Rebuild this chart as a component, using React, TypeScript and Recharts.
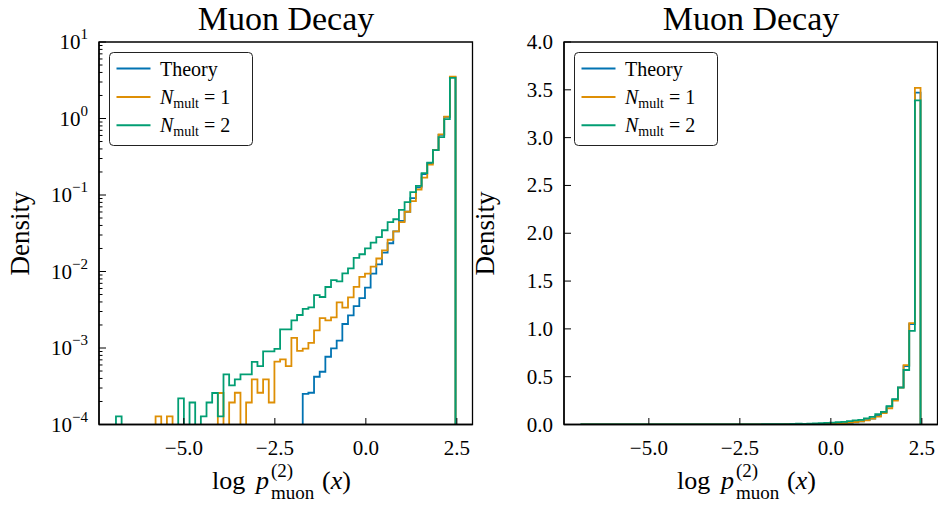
import React from 'react';
import { LineChart, Line, XAxis, YAxis, ReferenceArea } from 'recharts';

// ---- data ----
const BIN_START = -6.865;
const BIN_WIDTH = 0.15548;

const theory = [
  0, 0, 0, 0, 0, 0, 0, 0, 0, 0,
  0, 0, 0, 0, 0, 0, 0, 0, 0, 0,
  0, 0, 0, 0, 0, 0, 0, 0, 0, 0,
  0, 0, 0, 2.52e-4, 2.6e-4, 4.21e-4, 4.89e-4, 7.69e-4, 9.88e-4, 1.25e-3,
  2.06e-3, 2.67e-3, 3.53e-3, 4.5e-3, 6.15e-3, 9.39e-3, 1.24e-2, 1.77e-2, 2.34e-2, 3.34e-2,
  4.58e-2, 6.04e-2, 9.08e-2, 0.126, 0.187, 0.261, 0.388, 0.61, 1.05, 3.47,
];

const nMult1 = [
  0, 0, 0, 0, 0, 0, 0, 1.28e-4, 0, 1.28e-4,
  0, 0, 0, 0, 0, 0, 0, 0, 2.58e-4, 0,
  1.94e-4, 2.6e-4, 0, 1.94e-4, 3.88e-4, 2.6e-4, 3.88e-4, 1.94e-4, 6.62e-4, 7.09e-4,
  5.79e-4, 1.36e-3, 9.16e-4, 9.82e-4, 1.17e-3, 1.7e-3, 2.46e-3, 2.3e-3, 2.52e-3, 3.95e-3,
  3.37e-3, 4.59e-3, 6.31e-3, 8.53e-3, 9.39e-3, 1.16e-2, 1.48e-2, 1.89e-2, 2.6e-2, 3.34e-2,
  4.41e-2, 6.04e-2, 8.3e-2, 0.118, 0.169, 0.249, 0.386, 0.62, 1.06, 3.52,
];

const nMult2 = [
  1.28e-4, 0, 0, 0, 0, 0, 0, 0, 0, 0,
  0, 2.19e-4, 0, 1.94e-4, 0, 1.28e-4, 1.94e-4, 2.58e-4, 1.28e-4, 4.51e-4,
  3.24e-4, 3.88e-4, 4.51e-4, 4.51e-4, 6.58e-4, 5.79e-4, 9.02e-4, 9.02e-4, 9.73e-4, 1.75e-3,
  1.75e-3, 2.3e-3, 2.7e-3, 3.25e-3, 3.4e-3, 4.91e-3, 4.64e-3, 6.27e-3, 7.71e-3, 7.45e-3,
  9.47e-3, 1.1e-2, 1.51e-2, 1.68e-2, 2.01e-2, 2.38e-2, 2.81e-2, 3.46e-2, 4.41e-2, 4.82e-2,
  6.38e-2, 8.05e-2, 0.109, 0.132, 0.193, 0.265, 0.386, 0.57, 0.98, 3.39,
];

const SERIES_NAMES = ['Theory', 'N_mult = 1', 'N_mult = 2'];
const X_TICKS = [-5, -2.5, 0, 2.5];
const LIN_Y_TICKS = [0, 0.5, 1, 1.5, 2, 2.5, 3, 3.5, 4];
const LOG_DECADES = [-4, -3, -2, -1, 0];
const TITLE = 'Muon Decay';
const Y_LABEL = 'Density';

// ---- styling ----
const BLUE = '#0173b2';
const ORANGE = '#de8f05';
const GREEN = '#029e73';
const FONT = '"Liberation Serif", "Times New Roman", serif';
const TM = 10; // tick margin
const X_DOMAIN: [number, number] = [-7.331, 2.930];
const AXIS_LINE = { stroke: '#000', strokeWidth: 1.4 };

const LOG_TICKS: number[] = [];
LOG_DECADES.forEach((k) => {
  for (let m = 1; m <= 9; m++) LOG_TICKS.push(m * Math.pow(10, k));
});
LOG_TICKS.push(10);

function buildRows(floor: number) {
  const edge = (i: number) => BIN_START + i * BIN_WIDTH;
  const f = (v: number) => (v > 0 ? v : floor);
  const rows: any[] = [];
  rows.push({ x: edge(0), theory: floor, n1: floor, n2: floor });
  for (let i = 0; i < theory.length; i++) {
    rows.push({ x: edge(i), theory: f(theory[i]), n1: f(nMult1[i]), n2: f(nMult2[i]) });
  }
  rows.push({ x: edge(theory.length), theory: floor, n1: floor, n2: floor });
  return rows;
}

const logRows = buildRows(1e-7);
const linRows = buildRows(0);

const fmtX = (v: number) => (v < 0 ? '\u2212' : '') + Math.abs(v).toFixed(1);

const XTick = (p: any) => {
  const { x, y, payload } = p;
  const axisY = y - TM;
  return (
    <g>
      <line x1={x} x2={x} y1={axisY} y2={axisY - 6.5} stroke="#000" strokeWidth={1} />
      <text x={x} y={axisY + 30} textAnchor="middle" fontSize={21} fontFamily={FONT} fill="#000">
        {fmtX(payload.value)}
      </text>
    </g>
  );
};

const LogYTick = (p: any) => {
  const { x, y, payload } = p;
  const v = payload.value;
  const e = Math.floor(Math.log10(v) + 1e-9);
  const mant = v / Math.pow(10, e);
  const isMajor = Math.abs(mant - 1) < 1e-6;
  const axisX = x + TM;
  return (
    <g>
      <line x1={axisX} x2={axisX + (isMajor ? 7 : 3.5)} y1={y} y2={y} stroke="#000" strokeWidth={1} />
      {isMajor && (
        <text x={axisX - 11} y={y + 7} textAnchor="end" fontSize={21} fontFamily={FONT} fill="#000">
          10
          <tspan dy={-10} fontSize={15}>{e < 0 ? '\u2212' + -e : String(e)}</tspan>
        </text>
      )}
    </g>
  );
};

const LinYTick = (p: any) => {
  const { x, y, payload } = p;
  const axisX = x + TM;
  return (
    <g>
      <line x1={axisX} x2={axisX + 7} y1={y} y2={y} stroke="#000" strokeWidth={1} />
      <text x={axisX - 11} y={y + 7} textAnchor="end" fontSize={21} fontFamily={FONT} fill="#000">
        {payload.value.toFixed(1)}
      </text>
    </g>
  );
};

function Panel({ log }: { log: boolean }) {
  const rows = log ? logRows : linRows;
  return (
    <LineChart
      width={475}
      height={508}
      data={rows}
      margin={{ top: 42, right: 2.5, bottom: 0, left: 0 }}
    >
      <Line type="stepAfter" dataKey="theory" name={SERIES_NAMES[0]} stroke={BLUE} strokeWidth={1.8} dot={false} isAnimationActive={false} />
      <Line type="stepAfter" dataKey="n1" name={SERIES_NAMES[1]} stroke={ORANGE} strokeWidth={1.8} dot={false} isAnimationActive={false} />
      <Line type="stepAfter" dataKey="n2" name={SERIES_NAMES[2]} stroke={GREEN} strokeWidth={1.8} dot={false} isAnimationActive={false} />
      <ReferenceArea
        x1={X_DOMAIN[0]}
        x2={X_DOMAIN[1]}
        y1={log ? 1e-4 : 0}
        y2={log ? 10 : 4}
        fill="none"
        stroke="#000"
        strokeWidth={1.3}
        ifOverflow="visible"
        {...({ zIndex: 900 } as any)}
      />
      <XAxis
        dataKey="x"
        type="number"
        domain={X_DOMAIN}
        ticks={X_TICKS}
        allowDataOverflow
        height={83.5}
        tickSize={0}
        tickMargin={TM}
        tickLine={false}
        axisLine={AXIS_LINE}
        interval={0}
        tick={(p: any) => <XTick {...p} />}
      />
      {log ? (
        <YAxis
          type="number"
          scale="log"
          domain={[1e-4, 10]}
          allowDataOverflow
          ticks={LOG_TICKS}
          width={99}
          tickSize={0}
          tickMargin={TM}
          tickLine={false}
          axisLine={AXIS_LINE}
          interval={0}
          tick={(p: any) => <LogYTick {...p} />}
        />
      ) : (
        <YAxis
          type="number"
          domain={[0, 4]}
          allowDataOverflow
          ticks={LIN_Y_TICKS}
          width={99}
          tickSize={0}
          tickMargin={TM}
          tickLine={false}
          axisLine={AXIS_LINE}
          interval={0}
          tick={(p: any) => <LinYTick {...p} />}
        />
      )}
    </LineChart>
  );
}

function Legend({ dx }: { dx: number }) {
  const items = [
    { c: BLUE, label: null, text: 'Theory' },
    { c: ORANGE, label: '1' },
    { c: GREEN, label: '2' },
  ];
  return (
    <g transform={`translate(${dx},0)`}>
      <rect x={109.5} y={52.5} width={143} height={93} rx={4} fill="#fff" fillOpacity={0.8} stroke="#222" strokeWidth={1} />
      {items.map((it, i) => {
        const ly = 68.5 + i * 28.4;
        return (
          <g key={i}>
            <line x1={116.5} x2={150.5} y1={ly} y2={ly} stroke={it.c} strokeWidth={2} />
            {it.text ? (
              <text x={160} y={ly + 7} fontSize={20} fontFamily={FONT} fill="#000">{it.text}</text>
            ) : (
              <text x={160} y={ly + 7} fontSize={20} fontFamily={FONT} fill="#000">
                <tspan fontStyle="italic">N</tspan>
                <tspan fontSize={14} dy={4}>mult</tspan>
                <tspan dy={-4}>{' = ' + it.label}</tspan>
              </text>
            )}
          </g>
        );
      })}
    </g>
  );
}

function Labels({ dx }: { dx: number }) {
  return (
    <g transform={`translate(${dx},0)`} fontFamily={FONT} fill="#000">
      <text x={286} y={30} textAnchor="middle" fontSize={34}>{TITLE}</text>
      <text transform="translate(29,233.5) rotate(-90)" textAnchor="middle" fontSize={27}>{Y_LABEL}</text>
      <text x={212} y={489} fontSize={26}>log</text>
      <text x={256} y={489} fontSize={26} fontStyle="italic">p</text>
      <text x={271} y={477} fontSize={19}>(2)</text>
      <text x={271} y={499} fontSize={19}>muon</text>
      <text x={322} y={489} fontSize={26}>
        (<tspan fontStyle="italic">x</tspan>)
      </text>
    </g>
  );
}

export default function App() {
  return (
    <div style={{ position: 'absolute', left: 0, top: 0, width: 938, height: 508, overflow: 'hidden', background: '#fff' }}>
      <div style={{ position: 'absolute', left: 0, top: 0 }}>
        <Panel log={true} />
      </div>
      <div style={{ position: 'absolute', left: 465, top: 0 }}>
        <Panel log={false} />
      </div>
      <svg width={938} height={508} style={{ position: 'absolute', left: 0, top: 0, pointerEvents: 'none' }}>
        <Labels dx={0} />
        <Labels dx={465} />
        <Legend dx={0} />
        <Legend dx={465} />
      </svg>
    </div>
  );
}
